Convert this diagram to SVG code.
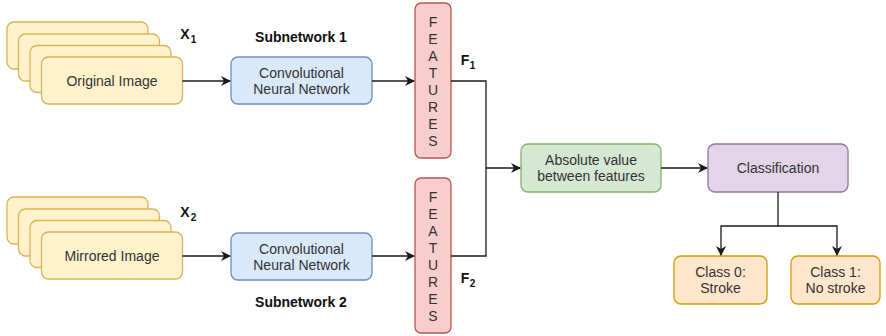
<svg xmlns="http://www.w3.org/2000/svg" width="886" height="336" viewBox="0 0 886 336">
<defs>
<marker id="arr" viewBox="0 0 10 10" refX="9" refY="5" markerWidth="10" markerHeight="10" markerUnits="userSpaceOnUse" orient="auto">
<path d="M0,0 L10,5 L0,10 L3,5 Z" fill="#1a1a1a"/>
</marker>
</defs>
<style>
text{font-family:"Liberation Sans",Arial,sans-serif;font-size:14px;fill:#333;text-anchor:middle;dominant-baseline:central}
.b{font-weight:bold;fill:#111}
.y{fill:#fff2cc;stroke:#d6b656;stroke-width:1.3}
.bl{fill:#dae8fc;stroke:#6c8ebf;stroke-width:1.3}
.r{fill:#f8cecc;stroke:#b85450;stroke-width:1.3}
.g{fill:#d5e8d4;stroke:#82b366;stroke-width:1.3}
.p{fill:#e1d5e7;stroke:#9673a6;stroke-width:1.3}
.o{fill:#ffe6cc;stroke:#d79b00;stroke-width:1.3}
.c{fill:none;stroke:#1a1a1a;stroke-width:1.3}
.sub{font-size:10px}
</style>
<g id="img1">
<rect class="y" x="7" y="22" width="141" height="47" rx="7"/>
<rect class="y" x="18.5" y="34" width="141" height="47" rx="7"/>
<rect class="y" x="30" y="45.5" width="141" height="47" rx="7"/>
<rect class="y" x="41.5" y="57" width="141" height="47" rx="7"/>
<text x="112" y="81">Original Image</text>
</g>
<g id="img2">
<rect class="y" x="7" y="197" width="141" height="47" rx="7"/>
<rect class="y" x="18.5" y="209" width="141" height="47" rx="7"/>
<rect class="y" x="30" y="220.5" width="141" height="47" rx="7"/>
<rect class="y" x="41.5" y="232" width="141" height="47" rx="7"/>
<text x="112" y="256">Mirrored Image</text>
</g>
<g id="x1"><text class="b" x="185" y="34">X</text><text class="b sub" x="193.5" y="39">1</text></g>
<g id="x2"><text class="b" x="185" y="212">X</text><text class="b sub" x="193.5" y="217">2</text></g>
<g id="sub1"><text class="b" x="301" y="37">Subnetwork 1</text></g>
<g id="sub2"><text class="b" x="301" y="302">Subnetwork 2</text></g>
<g id="cnn1">
<rect class="bl" x="231" y="57" width="141" height="47" rx="7"/>
<text x="301.5" y="73">Convolutional</text>
<text x="301.5" y="89">Neural Network</text>
</g>
<g id="cnn2">
<rect class="bl" x="231" y="233" width="141" height="47" rx="7"/>
<text x="301.5" y="249">Convolutional</text>
<text x="301.5" y="265">Neural Network</text>
</g>
<g id="feat1">
<rect class="r" x="415" y="3" width="36" height="155" rx="6"/>
<text x="433" y="22">F</text><text x="433" y="39">E</text><text x="433" y="56">A</text><text x="433" y="73">T</text><text x="433" y="90">U</text><text x="433" y="107">R</text><text x="433" y="124">E</text><text x="433" y="141">S</text>
</g>
<g id="feat2">
<rect class="r" x="415" y="178" width="36" height="155" rx="6"/>
<text x="433" y="197">F</text><text x="433" y="214">E</text><text x="433" y="231">A</text><text x="433" y="248">T</text><text x="433" y="265">U</text><text x="433" y="282">R</text><text x="433" y="299">E</text><text x="433" y="316">S</text>
</g>
<g id="f1"><text class="b" x="465" y="60">F</text><text class="b sub" x="472.5" y="65">1</text></g>
<g id="f2"><text class="b" x="465" y="278">F</text><text class="b sub" x="472.5" y="283">2</text></g>
<g id="abs">
<rect class="g" x="521" y="144" width="140" height="48" rx="7"/>
<text x="591" y="159.5">Absolute value</text>
<text x="591" y="176">between features</text>
</g>
<g id="cls">
<rect class="p" x="708" y="144" width="140" height="48" rx="7"/>
<text x="778" y="168">Classification</text>
</g>
<g id="c0">
<rect class="o" x="674" y="256" width="93" height="48" rx="7"/>
<text x="720.5" y="272">Class 0:</text>
<text x="720.5" y="288">Stroke</text>
</g>
<g id="c1">
<rect class="o" x="791" y="256" width="89" height="48" rx="7"/>
<text x="835.5" y="272">Class 1:</text>
<text x="835.5" y="288">No stroke</text>
</g>
<g id="connectors">
<path class="c" d="M182.5,81 H230" marker-end="url(#arr)"/>
<path class="c" d="M182.5,256 H230" marker-end="url(#arr)"/>
<path class="c" d="M372,81 H414" marker-end="url(#arr)"/>
<path class="c" d="M372,256 H414" marker-end="url(#arr)"/>
<path class="c" d="M451,81 H486 V256 H451"/>
<path class="c" d="M486,168 H520" marker-end="url(#arr)"/>
<path class="c" d="M661,168 H707" marker-end="url(#arr)"/>
<path class="c" d="M778,192 V226 H721 V255" marker-end="url(#arr)"/>
<path class="c" d="M778,226 H837 V255" marker-end="url(#arr)"/>
</g>
</svg>
